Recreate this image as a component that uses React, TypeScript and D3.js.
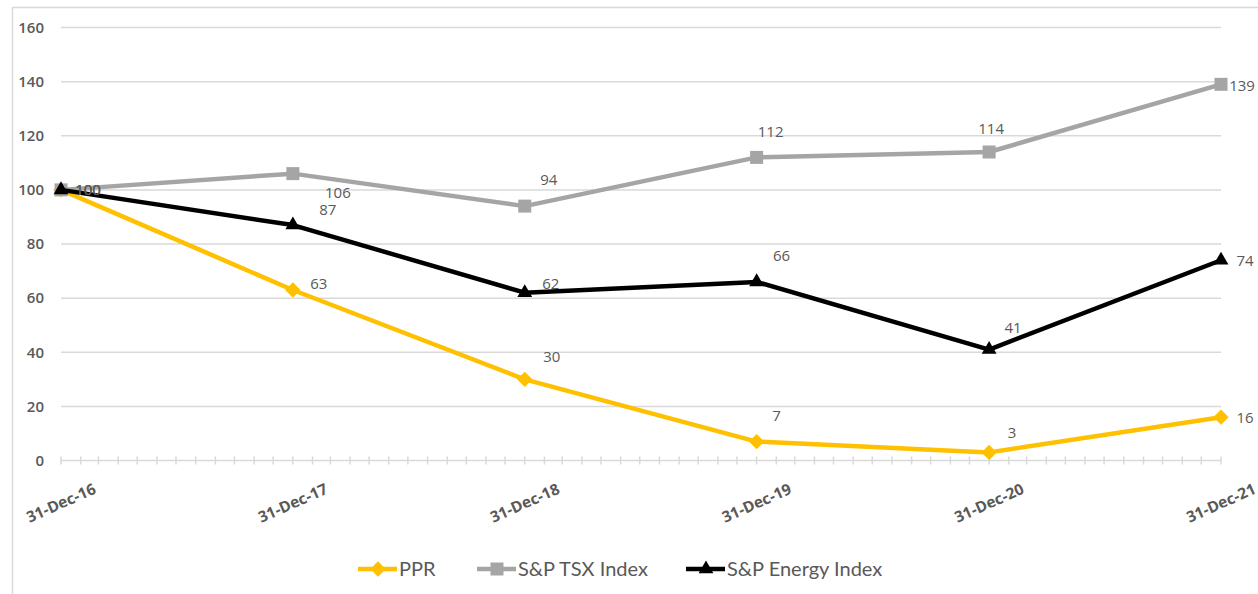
import * as d3 from 'd3';

const dates = ['2016-12-31', '2017-12-31', '2018-12-31', '2019-12-31', '2020-12-31', '2021-12-31'];
const dateLabels = ['31-Dec-16', '31-Dec-17', '31-Dec-18', '31-Dec-19', '31-Dec-20', '31-Dec-21'];
const pprValues = [100, 63, 30, 7, 3, 16];
const tsxValues = [100, 106, 94, 112, 114, 139];
const energyValues = [100, 87, 62, 66, 41, 74];
const yTicks = [0, 20, 40, 60, 80, 100, 120, 140, 160];

// hand-placed data label offsets (label centre relative to point), like the source
const pprLabelOffsets = [[27, 0], [26, -6], [27, -23], [20, -26], [23, -20], [24, 1]];
const tsxLabelOffsets = [[27, 0], [45, 19], [24, -26], [14, -26], [2, -23], [21, 1]];
const energyLabelOffsets = [[27, 0], [35, -15], [26, -9], [25, -26], [24, -22], [24, 1]];

const W = 1258;
const H = 594;
const FONT = '"Open Sans", "Liberation Sans", sans-serif';
const LEGEND_FONT = 'Lato, "Open Sans", sans-serif';
const TEXT = '#595959';
const GRID = '#d9d9d9';

type Shape = 'diamond' | 'square' | 'triangle';

const markerPath = (shape: Shape) => {
	if (shape === 'diamond') return d3.symbol(d3.symbolDiamond2, 150)()!;
	if (shape === 'square') return d3.symbol(d3.symbolSquare, 169)()!;
	return d3.symbol(d3.symbolTriangle, 95)()!;
};

const parseDate = (s: string) => {
	const [y, m, d] = s.split('-').map(Number);
	return new Date(y, m - 1, d);
};

export default function App() {
	const x = d3
		.scaleTime()
		.domain([parseDate(dates[0]), parseDate(dates[dates.length - 1])])
		.range([61, 1221]);
	const y = d3.scaleLinear().domain([0, 160]).range([460.5, 27.5]);

	// month-end minor ticks
	const monthTicks = d3
		.timeMonth.range(new Date(2017, 0, 1), new Date(2022, 0, 2))
		.map((d) => d3.timeDay.offset(d, -1));

	const series = [
		{ name: 'PPR', values: pprValues, color: '#FFC000', shape: 'diamond' as Shape, offsets: pprLabelOffsets },
		{ name: 'S&P TSX Index', values: tsxValues, color: '#A5A5A5', shape: 'square' as Shape, offsets: tsxLabelOffsets },
		{ name: 'S&P Energy Index', values: energyValues, color: '#000000', shape: 'triangle' as Shape, offsets: energyLabelOffsets },
	];

	const line = d3
		.line<{ date: Date; value: number }>()
		.x((d) => x(d.date))
		.y((d) => y(d.value));

	const legendX = [358, 477, 686];
	const legendY = 569;

	return (
		<svg width={W} height={H} style={{ position: 'absolute', left: 0, top: 0, background: '#fff' }} fontFamily={FONT}>
			<rect x={12.5} y={7.5} width={W + 10} height={H + 10} fill="#fff" stroke={GRID} strokeWidth={1.5} />

			{/* gridlines */}
			{yTicks.filter((t) => t > 0).map((t) => (
				<line key={t} x1={x.range()[0]} x2={x.range()[1]} y1={y(t)} y2={y(t)} stroke={GRID} strokeWidth={1.5} />
			))}

			{/* x axis line and month ticks */}
			<line x1={x.range()[0]} x2={x.range()[1]} y1={y(0)} y2={y(0)} stroke={GRID} strokeWidth={1.5} />
			{monthTicks.map((d, i) => (
				<line key={i} x1={x(d)} x2={x(d)} y1={y(0) - 4} y2={y(0) + 4} stroke={GRID} strokeWidth={1.5} />
			))}

			{/* y tick labels */}
			{yTicks.map((t) => (
				<text key={t} x={44} y={y(t)} dy="0.35em" textAnchor="end" fontSize={15} fontWeight={600} fill={TEXT}>
					{t}
				</text>
			))}

			{/* x tick labels */}
			{dates.map((d, i) => {
				const cx = x(parseDate(d));
				const cy = 503;
				return (
					<text
						key={d}
						x={cx}
						y={cy}
						dy="0.35em"
						textAnchor="middle"
						fontSize={15.5}
						fontWeight={700}
						fill={TEXT}
						transform={`rotate(-24, ${cx}, ${cy})`}
					>
						{dateLabels[i]}
					</text>
				);
			})}

			{/* lines */}
			{series.map((s) => {
				const pts = s.values.map((v, i) => ({ date: parseDate(dates[i]), value: v }));
				return (
					<g key={s.name}>
						<path d={line(pts)!} fill="none" stroke={s.color} strokeWidth={4.5} strokeLinejoin="round" />
						{pts.map((p, i) => (
							<path key={i} d={markerPath(s.shape)} transform={`translate(${x(p.date)},${y(p.value)})`} fill={s.color} />
						))}
					</g>
				);
			})}

			{/* data labels */}
			{series.map((s) =>
				s.values.map((v, i) => {
					const px = x(parseDate(dates[i]));
					const py = y(v);
					const [dx, dy] = s.offsets[i];
					return (
						<text key={s.name + i} x={px + dx} y={py + dy} dy="0.35em" textAnchor="middle" fontSize={15} fill={TEXT}>
							{v}
						</text>
					);
				})
			)}

			{/* legend */}
			{series.map((s, i) => (
				<g key={s.name} transform={`translate(${legendX[i]},${legendY})`}>
					<line x1={0} x2={39} y1={0} y2={0} stroke={s.color} strokeWidth={4.5} />
					<path d={markerPath(s.shape)} transform="translate(20,0)" fill={s.color} />
					<text x={41} y={0} dy="0.36em" fontSize={20} fontFamily={LEGEND_FONT} fill={TEXT}>
						{s.name}
					</text>
				</g>
			))}
		</svg>
	);
}
